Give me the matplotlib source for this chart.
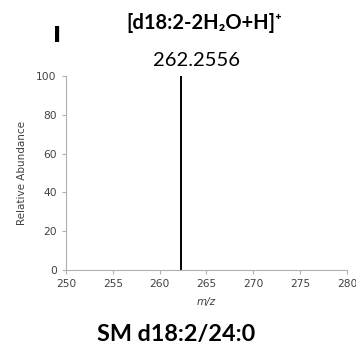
import matplotlib
matplotlib.use("Agg")
import matplotlib.pyplot as plt

# datos del espectro
mz = [262.2556]
abundancia = [100]
etiqueta_pico = "262.2556"
x_ticks = [250, 255, 260, 265, 270, 275, 280]
y_ticks = [0, 20, 40, 60, 80, 100]

fuente = ["Lato", "DejaVu Sans"]

fig = plt.figure(figsize=(3.56, 3.46), dpi=100)
ax = fig.add_axes([0.185, 0.22, 0.79, 0.56])

ax.vlines(mz, 0, abundancia, color="black", linewidth=1.4)

ax.set_xlim(250, 280)
ax.set_ylim(0, 100)
ax.set_xticks(x_ticks)
ax.set_yticks(y_ticks)
for s in ["top", "right"]:
    ax.spines[s].set_visible(False)
for s in ["left", "bottom"]:
    ax.spines[s].set_color("#b0b0b0")
ax.tick_params(colors="#b0b0b0", labelcolor="#404040", labelsize=7.7, length=3, width=0.8,
               labelfontfamily="DejaVu Sans")
ax.set_ylabel("Relative Abundance", fontsize=7.5, color="#404040", labelpad=7)
ax.set_xlabel("m/z", fontsize=7.5, style="italic", color="#404040", labelpad=6)

# textos
fig.text(57 / 356, 1 - 36 / 346, "I", fontsize=16, fontweight="heavy", ha="center", va="center",
         family="DejaVu Sans")
fig.text(204 / 356, 1 - 23 / 346, "[d18:2-2H\u2082O+H]\u207a", fontsize=14.5,
         fontweight="bold", ha="center", va="center", family=fuente)
ax.annotate(etiqueta_pico, (mz[0], 100), xytext=(16, 7), textcoords="offset pixels",
            fontsize=14.5, ha="center", va="bottom", family=fuente)
fig.text(176 / 356, 1 - 334 / 346, "SM d18:2/24:0", fontsize=16.8, fontweight="bold",
         ha="center", va="center", family=fuente)

plt.savefig("out.png", dpi=100)
